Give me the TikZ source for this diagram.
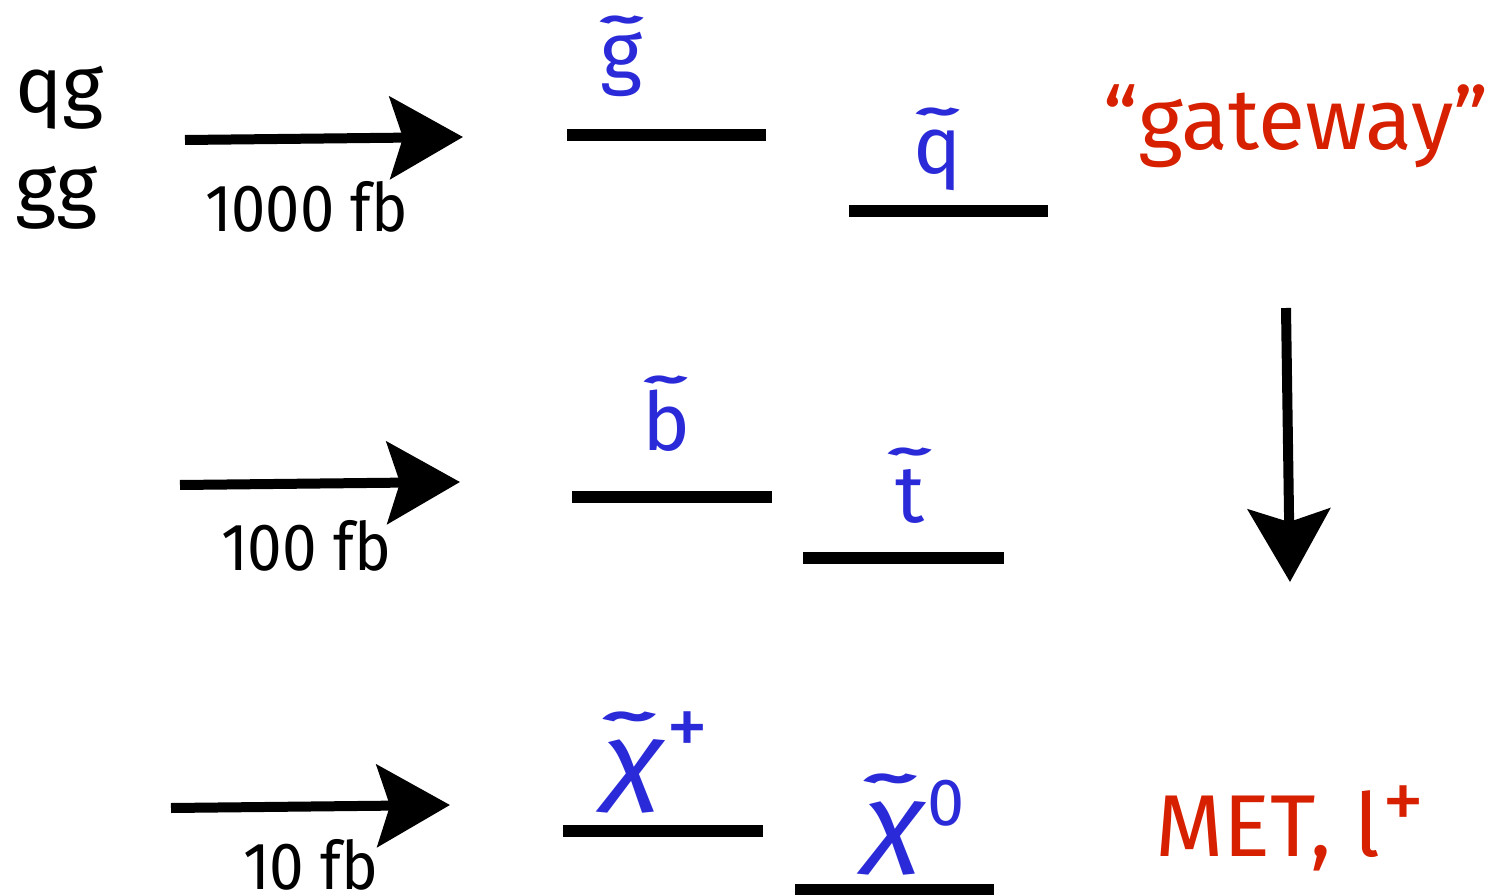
\documentclass[tikz,border=0pt]{standalone}
\usepackage{fontspec}
\usepackage{graphicx}
\setmainfont{Fira Sans}
\usetikzlibrary{arrows.meta}
\definecolor{lvlblue}{HTML}{2A2AD8}
\definecolor{lblred}{HTML}{D62000}
% letter with a wide tilde above: #1 horizontal shift, #2 raise, #3 letter
\newcommand\tld[3]{{\ooalign{#3\cr\hidewidth\kern#1\raisebox{#2}{\scalebox{1.45}[0.65]{\bfseries\upshape\char"02DC}}\hidewidth\cr}}}
\begin{document}
\begin{tikzpicture}[x=0.02cm,y=-0.02cm,
  every node/.style={inner sep=0pt,outer sep=0pt},
  bar/.style={line width=0.24cm},
  bigarrow/.style={line width=0.2cm,-{Stealth[length=1.46cm,width=1.64cm,inset=0.26cm]}},
  blk/.style={text=black,font=\fontsize{45}{45}\selectfont},
  xsec/.style={text=black,font=\fontsize{38}{38}\selectfont},
  part/.style={text=lvlblue,font=\fontsize{46}{46}\selectfont},
  chi/.style={text=lvlblue,font=\fontsize{56}{56}\selectfont},
  red/.style={text=lblred,font=\fontsize{49}{49}\selectfont}]
\useasboundingbox (0,0) rectangle (1498,895);
% initial states
\node[blk,anchor=base west] (qg) at (15,113) {qg};
\node[blk,anchor=base west] (gg) at (15,213) {gg};
% production arrows
\coordinate (a1s) at (185,140); \coordinate (a1e) at (463,137);
\coordinate (a2s) at (180,485); \coordinate (a2e) at (460,482);
\coordinate (a3s) at (171,808); \coordinate (a3e) at (450,805);
\draw[bigarrow] (a1s) -- (a1e);
\draw[bigarrow] (a2s) -- (a2e);
\draw[bigarrow] (a3s) -- (a3e);
\node[xsec,anchor=base west] (x1) at (205,232) {\scalebox{0.92}[1]{1000 fb}};
\node[xsec,anchor=base west] (x2) at (221,570) {\scalebox{0.93}[1]{100 fb}};
\node[xsec,anchor=base west] (x3) at (243,889) {\scalebox{0.93}[1]{10 fb}};
% levels
\coordinate (g1) at (567,135); \coordinate (g2) at (766,135);
\coordinate (q1) at (849,211); \coordinate (q2) at (1048,211);
\coordinate (b1) at (572,497); \coordinate (b2) at (772,497);
\coordinate (t1) at (803,558); \coordinate (t2) at (1004,558);
\coordinate (c1) at (563,831); \coordinate (c2) at (763,831);
\coordinate (n1) at (795,890); \coordinate (n2) at (994,890);
\draw[bar] (g1) -- (g2);
\draw[bar] (q1) -- (q2);
\draw[bar] (b1) -- (b2);
\draw[bar] (t1) -- (t2);
\draw[bar] (c1) -- (c2);
\draw[bar] (n1) -- (n2);
% particle labels
\node[part,anchor=base] (lg) at (622,80) {\tld{0pt}{0.28em}{g}};
\node[part,anchor=base] (lq) at (938,174) {\tld{0pt}{0.3em}{q}};
\node[part,anchor=base] (lb) at (666,450) {\tld{0pt}{0.4em}{b}};
\node[part,anchor=base] (lt) at (910,522) {\tld{0pt}{0.4em}{t}};
\node[chi,anchor=base west] (lc) at (605,792) {\itshape\tld{-0.08em}{0.3em}{\scalebox{1.3}[1]{χ}}\kern0.04em\raisebox{21pt}{\fontsize{48}{48}\selectfont\upshape +}};
\node[chi,anchor=base west] (ln) at (866,854) {\itshape\tld{-0.08em}{0.3em}{\scalebox{1.3}[1]{χ}}\kern0.04em\raisebox{16.5pt}{\fontsize{38}{38}\selectfont\upshape 0}};
% right side
\node[red,anchor=base] (gw) at (1296,150) {“gateway”};
\coordinate (d1) at (1286,308); \coordinate (d2) at (1290,582);
\draw[bigarrow] (d1) -- (d2);
\node[red,anchor=base west,font=\fontsize{50}{50}\selectfont] (met) at (1155,856) {MET, l\kern0.02em\raisebox{15pt}{\fontsize{48}{48}\selectfont +}};
\end{tikzpicture}
\end{document}
